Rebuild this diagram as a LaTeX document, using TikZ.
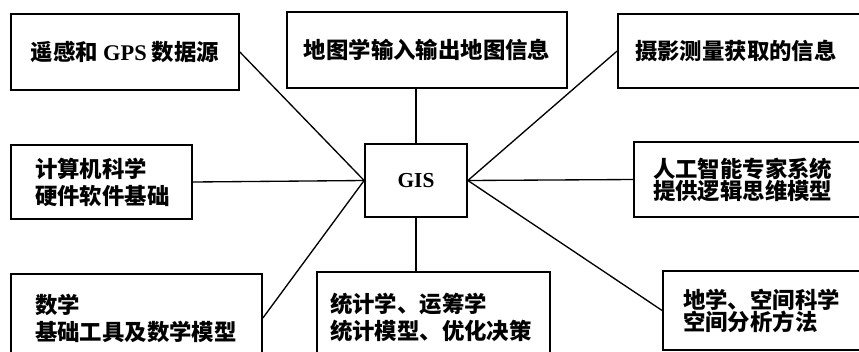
\documentclass[tikz,border=0pt]{standalone}
\usepackage{fontspec}
\setmainfont{Liberation Serif}
\newfontfamily\cjk{Noto Sans CJK SC}
\newdimen\px \px=0.75pt
\tikzset{
  box/.style={draw, line width=1.3pt, rectangle, inner ysep=0pt,
    font=\cjk\bfseries\fontsize{16.8}{20.25}\selectfont},
  tight/.style={font=\cjk\bfseries\fontsize{16.8}{16.5}\selectfont},
  link/.style={line width=1pt},
}
\begin{document}
\begin{tikzpicture}[x=0.75pt,y=-0.75pt]
\useasboundingbox (0,0) rectangle (859,351);
\clip (0,0) rectangle (859,351);
\node[box, minimum width=228\px, minimum height=76\px] (b1) at (125,52)
  {遥感和 {\rmfamily GPS} 数据源};
\node[box, minimum width=280\px, minimum height=76\px] (b2) at (427,50)
  {地图学输入输出地图信息};
\node[box, minimum width=262\px, minimum height=74\px, inner xsep=17\px,
  text width=228\px, align=left] (b3) at (749,51)
  {摄影测量获取的信息};
\node[box, minimum width=181\px, minimum height=74\px, inner xsep=24\px,
  text width=133\px, align=left] (b4) at (101.5,182)
  {计算机科学\\硬件软件基础};
\node[draw, line width=1.3pt, minimum width=102\px, minimum height=73\px,
  font=\bfseries\fontsize{16}{19}\selectfont] (gis) at (416,180.5) {GIS};
\node[box, tight, minimum width=246\px, minimum height=75\px, inner xsep=19\px,
  text width=208\px, align=left] (b6) at (757,179.5)
  {人工智能专家系统\\提供逻辑思维模型};
\node[box, minimum width=251\px, minimum height=88\px, inner xsep=24\px,
  text width=203\px, align=left] (b7) at (136.5,318)
  {数学\\基础工具及数学模型};
\node[box, minimum width=233\px, minimum height=90\px, inner xsep=13\px,
  text width=207\px, align=left] (b8) at (433.5,317)
  {统计学、运筹学\\统计模型、优化决策};
\node[box, tight, minimum width=217\px, minimum height=79\px, inner xsep=20\px,
  text width=177\px, align=left] (b9) at (771.5,310.5)
  {地学、空间科学\\空间分析方法};
\draw[link] (b1.east) -- (gis.west);
\draw[link] (gis.north |- b2.south) -- (gis.north);
\draw[link] (b3.west) -- (gis.east);
\draw[link] (b4.east) -- (gis.west);
\draw[link] (b6.west) -- (gis.east);
\draw[link] (b7.east) -- (gis.west);
\draw[link] (gis.south) -- (gis.south |- b8.north);
\draw[link] (b9.west) -- (gis.east);
\end{tikzpicture}
\end{document}
